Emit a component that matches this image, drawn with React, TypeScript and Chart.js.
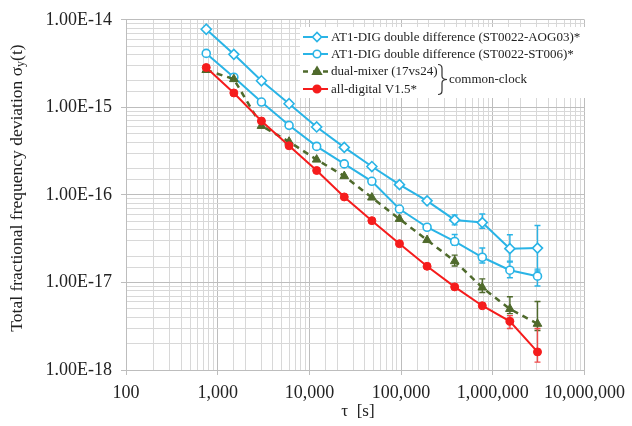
import React, { useEffect, useRef } from "react";
import { Chart, registerables } from "chart.js";
Chart.register(...registerables);

// ---- data ----
const tau = [750, 1500, 3000, 6000, 12000, 24000, 48000, 96000, 192000, 384000, 768000, 1536000, 3072000];
const aog03 = [7.8e-15, 4.03e-15, 2.01e-15, 1.1e-15, 5.97e-16, 3.49e-16, 2.11e-16, 1.31e-16, 8.55e-17, 5.18e-17, 4.83e-17, 2.43e-17, 2.47e-17];
const st006 = [4.13e-15, 2.21e-15, 1.15e-15, 6.23e-16, 3.58e-16, 2.26e-16, 1.43e-16, 6.89e-17, 4.27e-17, 2.94e-17, 1.94e-17, 1.38e-17, 1.18e-17];
const dualMixer = [2.67e-15, 2.1e-15, 6.14e-16, 4.05e-16, 2.53e-16, 1.64e-16, 9.33e-17, 5.31e-17, 3.05e-17, 1.75e-17, 8.75e-18, 4.98e-18, 3.37e-18];
const allDigital = [2.85e-15, 1.46e-15, 6.98e-16, 3.64e-16, 1.9e-16, 9.48e-17, 5.08e-17, 2.77e-17, 1.53e-17, 8.9e-18, 5.42e-18, 3.6e-18, 1.61e-18];

const N = null;
const aog03Low = [N, N, N, N, N, N, N, N, N, 4.55e-17, 4.16e-17, 1.75e-17, 1.35e-17];
const aog03High = [N, N, N, N, N, N, N, N, N, 5.9e-17, 6.05e-17, 3.51e-17, 4.47e-17];
const st006Low = [N, N, N, N, N, N, N, N, N, 2.65e-17, 1.67e-17, 1.13e-17, 9.1e-18];
const st006High = [N, N, N, N, N, N, N, N, N, 3.53e-17, 2.47e-17, 1.71e-17, 1.42e-17];
const dualLow = [N, N, N, N, N, N, N, N, N, 1.54e-17, 7.67e-18, 4.4e-18, 2.83e-18];
const dualHigh = [N, N, N, N, N, N, N, N, N, 2.05e-17, 1.1e-17, 6.86e-18, 6.07e-18];
const digLow = [N, N, N, N, N, N, N, N, N, N, N, 2.98e-18, 1.23e-18];
const digHigh = [N, N, N, N, N, N, N, N, N, N, N, 4.18e-18, 2.98e-18];

const seriesNames = [
  "AT1-DIG double difference (ST0022-AOG03)*",
  "AT1-DIG double difference (ST0022-ST006)*",
  "dual-mixer (17vs24)",
  "all-digital V1.5*",
];
const braceLabel = "common-clock";

const xTickValues = [100, 1000, 10000, 100000, 1000000, 10000000];
const xTickLabels = ["100", "1,000", "10,000", "100,000", "1,000,000", "10,000,000"];
const yTickValues = [1e-18, 1e-17, 1e-16, 1e-15, 1e-14];
const yTickLabels = ["1.00E-18", "1.00E-17", "1.00E-16", "1.00E-15", "1.00E-14"];
const xTitle = "\u03c4  [s]";
const yTitleMain = "Total fractional frequency deviation \u03c3";
const yTitleSub = "y";
const yTitleEnd = "(t)";

// ---- styles ----
const BLUE = "#2ab4e6";
const OLIVE = "#4f6a2c";
const RED = "#f51c1c";
const FONT = "'Liberation Serif', 'Times New Roman', serif";
const MAJOR_GRID = "#bdbdbd";
const MINOR_GRID = "#d8d8d8";

const isMajor = (v: number) => {
  const l = Math.log10(v);
  return Math.abs(l - Math.round(l)) < 1e-6;
};
const labelFor = (v: number, vals: number[], labs: string[]) => {
  for (let i = 0; i < vals.length; i++) {
    if (Math.abs(v / vals[i] - 1) < 1e-6) return labs[i];
  }
  return "";
};

function drawMarker(ctx: CanvasRenderingContext2D, style: string, x: number, y: number, r: number, fill: string, stroke: string, lw: number) {
  ctx.save();
  ctx.beginPath();
  if (style === "rectRot") {
    ctx.moveTo(x - r, y); ctx.lineTo(x, y - r); ctx.lineTo(x + r, y); ctx.lineTo(x, y + r); ctx.closePath();
  } else if (style === "triangle") {
    ctx.moveTo(x, y - r); ctx.lineTo(x + r * 0.95, y + r * 0.6); ctx.lineTo(x - r * 0.95, y + r * 0.6); ctx.closePath();
  } else {
    ctx.arc(x, y, r, 0, Math.PI * 2);
  }
  ctx.fillStyle = fill; ctx.fill();
  ctx.lineWidth = lw; ctx.strokeStyle = stroke; ctx.stroke();
  ctx.restore();
}

const errorBarPlugin = {
  id: "errorBars",
  beforeDatasetsDraw(chart: any) {
    const ctx = chart.ctx as CanvasRenderingContext2D;
    const xs = chart.scales.x, ys = chart.scales.y;
    const sets = [
      { lo: aog03Low, hi: aog03High, c: BLUE },
      { lo: st006Low, hi: st006High, c: BLUE },
      { lo: dualLow, hi: dualHigh, c: OLIVE },
      { lo: digLow, hi: digHigh, c: "#f04a4a" },
    ];
    ctx.save();
    sets.forEach((s) => {
      ctx.strokeStyle = s.c;
      ctx.lineWidth = 1.4;
      tau.forEach((t, j) => {
        const lo = s.lo[j], hi = s.hi[j];
        if (lo == null || hi == null) return;
        const px = xs.getPixelForValue(t);
        const p1 = ys.getPixelForValue(lo), p2 = ys.getPixelForValue(hi);
        ctx.beginPath();
        ctx.moveTo(px, p1); ctx.lineTo(px, p2);
        ctx.moveTo(px - 3, p1); ctx.lineTo(px + 3, p1);
        ctx.moveTo(px - 3, p2); ctx.lineTo(px + 3, p2);
        ctx.stroke();
      });
    });
    ctx.restore();
  },
};

const decorPlugin = {
  id: "decor",
  afterDatasetsDraw(chart: any) {
    const ctx = chart.ctx as CanvasRenderingContext2D;
    ctx.save();
    // legend box
    ctx.fillStyle = "#ffffff";
    ctx.fillRect(300, 27, 290, 71);
    const rows = [37, 54, 71.5, 89];
    const styles = [
      { c: BLUE, m: "rectRot", r: 4.5, fill: "#fff", dash: [] as number[], lw: 2 },
      { c: BLUE, m: "circle", r: 3.8, fill: "#fff", dash: [] as number[], lw: 2 },
      { c: OLIVE, m: "triangle", r: 4.5, fill: OLIVE, dash: [5, 5], lw: 2.5 },
      { c: RED, m: "circle", r: 3.8, fill: RED, dash: [] as number[], lw: 2 },
    ];
    styles.forEach((s, i) => {
      const y = rows[i];
      ctx.save();
      ctx.strokeStyle = s.c;
      ctx.lineWidth = s.lw;
      ctx.setLineDash(s.dash);
      ctx.beginPath();
      ctx.moveTo(303, y); ctx.lineTo(328, y);
      ctx.stroke();
      ctx.restore();
      drawMarker(ctx, s.m, 317, y, s.r, s.fill, s.c, 1.6);
      ctx.fillStyle = "#222";
      ctx.font = `13px ${FONT}`;
      ctx.textBaseline = "middle";
      ctx.textAlign = "left";
      ctx.fillText(seriesNames[i], 331, y + 0.5);
    });
    // brace
    ctx.strokeStyle = "#333";
    ctx.lineWidth = 1.2;
    ctx.beginPath();
    ctx.moveTo(438, 64.5);
    ctx.quadraticCurveTo(442, 64.5, 442, 68.5);
    ctx.lineTo(442, 76);
    ctx.quadraticCurveTo(442, 79.5, 447, 79.5);
    ctx.quadraticCurveTo(442, 79.5, 442, 83);
    ctx.lineTo(442, 90.5);
    ctx.quadraticCurveTo(442, 94.5, 438, 94.5);
    ctx.stroke();
    ctx.fillStyle = "#222";
    ctx.font = `13px ${FONT}`;
    ctx.textBaseline = "middle";
    ctx.fillText(braceLabel, 449, 79.5);
    ctx.restore();
  },
  afterDraw(chart: any) {
    const ctx = chart.ctx as CanvasRenderingContext2D;
    ctx.save();
    ctx.fillStyle = "#222";
    // x title
    ctx.font = `17px ${FONT}`;
    ctx.textAlign = "center";
    ctx.textBaseline = "middle";
    ctx.fillText(xTitle, 358, 412);
    // y title (rotated, with subscript)
    ctx.translate(17, 188);
    ctx.rotate(-Math.PI / 2);
    ctx.textAlign = "left";
    ctx.textBaseline = "middle";
    const mainF = `17.5px ${FONT}`, subF = `12px ${FONT}`;
    ctx.font = mainF;
    const w1 = ctx.measureText(yTitleMain).width;
    const w3 = ctx.measureText(yTitleEnd).width;
    ctx.font = subF;
    const w2 = ctx.measureText(yTitleSub).width;
    const total = w1 + w2 + w3;
    let x0 = -total / 2;
    ctx.font = mainF;
    ctx.fillText(yTitleMain, x0, 0);
    x0 += w1;
    ctx.font = subF;
    ctx.fillText(yTitleSub, x0, 4);
    x0 += w2;
    ctx.font = mainF;
    ctx.fillText(yTitleEnd, x0, 0);
    ctx.restore();
  },
};

export default function App() {
  const ref = useRef<HTMLCanvasElement | null>(null);
  useEffect(() => {
    document.body.style.margin = "0";
    const canvas = ref.current;
    if (!canvas) return;
    const mk = (arr: number[]) => tau.map((t, i) => ({ x: t, y: arr[i] }));
    const chart = new Chart(canvas, {
      type: "line",
      data: {
        datasets: [
          {
            label: seriesNames[0], data: mk(aog03), borderColor: BLUE, borderWidth: 2,
            pointStyle: "rectRot", pointRadius: 5, pointBackgroundColor: "#fff", pointBorderColor: BLUE,
            pointBorderWidth: 1.6, tension: 0, order: 3,
          },
          {
            label: seriesNames[1], data: mk(st006), borderColor: BLUE, borderWidth: 2,
            pointStyle: "circle", pointRadius: 4, pointBackgroundColor: "#fff", pointBorderColor: BLUE,
            pointBorderWidth: 1.6, tension: 0, order: 2,
          },
          {
            label: seriesNames[2], data: mk(dualMixer), borderColor: OLIVE, borderWidth: 2.5, borderDash: [6, 5],
            pointStyle: "triangle", pointRadius: 5, pointBackgroundColor: OLIVE, pointBorderColor: OLIVE,
            pointBorderWidth: 1, tension: 0, order: 1,
          },
          {
            label: seriesNames[3], data: mk(allDigital), borderColor: RED, borderWidth: 2,
            pointStyle: "circle", pointRadius: 4, pointBackgroundColor: RED, pointBorderColor: RED,
            pointBorderWidth: 1, tension: 0, order: 0,
          },
        ],
      },
      options: {
        responsive: false,
        animation: false,
        events: [],
        layout: { padding: { top: 16, right: 42, bottom: 0, left: 0 } },
        plugins: { legend: { display: false }, tooltip: { enabled: false }, title: { display: false } },
        scales: {
          x: {
            type: "logarithmic",
            min: 100,
            max: 10000000,
            afterFit: (s: any) => { s.height = 56; },
            border: { color: MAJOR_GRID, width: 1 },
            grid: {
              color: (c: any) => (c.tick && isMajor(c.tick.value) ? MAJOR_GRID : MINOR_GRID),
              tickColor: (c: any) => (c.tick && isMajor(c.tick.value) ? MAJOR_GRID : "rgba(0,0,0,0)"),
              tickLength: 5,
              lineWidth: 1,
            },
            ticks: {
              autoSkip: false,
              minRotation: 0,
              maxRotation: 0,
              padding: 7,
              color: "#222",
              font: { family: FONT, size: 18 },
              callback: (v: any) => labelFor(Number(v), xTickValues, xTickLabels),
            },
          },
          y: {
            type: "logarithmic",
            min: 1e-18,
            max: 1e-14,
            afterFit: (s: any) => { s.width = 126; },
            border: { color: MAJOR_GRID, width: 1 },
            grid: {
              color: (c: any) => (c.tick && isMajor(c.tick.value) ? MAJOR_GRID : MINOR_GRID),
              tickColor: (c: any) => (c.tick && isMajor(c.tick.value) ? MAJOR_GRID : "rgba(0,0,0,0)"),
              tickLength: 5,
              lineWidth: 1,
            },
            ticks: {
              autoSkip: false,
              padding: 9,
              color: "#222",
              font: { family: FONT, size: 18 },
              callback: (v: any) => labelFor(Number(v), yTickValues, yTickLabels),
            },
          },
        },
      },
      plugins: [errorBarPlugin, decorPlugin],
    } as any);
    return () => chart.destroy();
  }, []);
  return <canvas ref={ref} width={632} height={426} style={{ display: "block" }} />;
}
